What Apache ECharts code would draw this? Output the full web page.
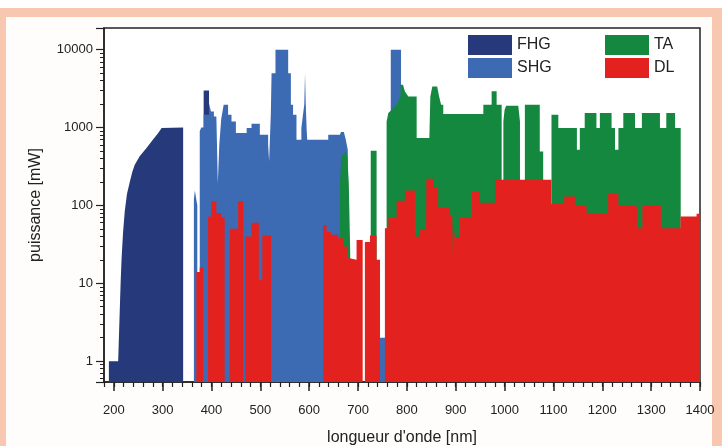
<!DOCTYPE html>
<html><head><meta charset="utf-8">
<script src="https://cdn.jsdelivr.net/npm/echarts@6/dist/echarts.min.js"></script>
<style>
html,body{margin:0;padding:0;background:#fff;width:722px;height:446px;overflow:hidden}
#frame{position:absolute;left:0;top:8px;width:722px;height:438px;background:#f8c7b0}
#inner{position:absolute;left:6px;top:17px;width:706px;height:429px;background:#fffdfb}
#chart{position:absolute;left:0;top:0;width:722px;height:446px}
</style></head><body>
<div id="frame"></div>
<div id="inner"></div>
<div id="chart"></div>
<script>
// ---- data (wavelength nm, power mW); null = gap ----
const seriesNames = ['FHG', 'SHG', 'TA', 'DL'];
const fhg = [[190,1],[209,1],[210.5,2],[212,4],[214,10],[216,21],[219,45],[222.5,84],[227,140],[233,203],[238,270],[243,333],[253,427],[267,545],[280,697],[291,851],[298,990],[342,1000],
  null,[384,3000],[395,3000]];
const shg = [[364,120],[366,156],[369,156],[371,100],null,
  [376,900],[379,1000],[384,1000],[384,1460],[395,1460],[395,2060],[399,2060],[399,1610],[405,1610],[405,1390],[410,1390],[413,193],[416,600],[420,1300],[425,1960],[434,1960],[434,1460],[441,1460],[441,1200],[450,1200],[450,850],[472,850],[472,990],[482,990],[482,1120],[499,1120],[499,807],[516,807],[516,600],[518,370],[521.5,370],[521.5,1500],[523,5000],[531,5000],[531,10000],[557,10000],[557,5000],[562.5,5000],[562.5,1960],[567,1960],[567,1460],[574,1460],[574,700],[584,700],[584,990],[588,990],[590,2000],[591.5,5000],[593,2000],[595,900],[596,700],[639,700],[639,807],[663,807],[665,880],[668,910],[671,880],[675,700],[679,520],[683,520],null,
  [745,2],[767,2],[767,10000],[788,10000]];
const ta = [[663,190],[665,190],[666,420],[675,500],[678,420],[681,200],[684,25],null,
  [726,503],[738,503],null,
  [758.5,1200],[762,1540],[769,1700],[779,2000],[787,2500],[787,3550],[792,3550],[796,2900],[800,2900],[803,2500],[820,2500],[820,733],[846,733],[848,2500],[852,3380],[862,3380],[866,2500],[870,1960],[874.5,1960],[874.5,1490],[956.5,1490],[956.5,1960],[973.5,1960],[973.5,2920],[983.7,2920],[983.7,1960],[994,1960],null,
  [997.5,1200],[1000,1700],[1003,1900],[1028,1900],[1031.5,1200],null,
  [1041.5,1960],[1072,1960],[1072,493],[1079,493],null,
  [1096,1460],[1110,1460],[1110,990],[1148,990],[1148,520],[1154,520],[1154,990],[1164,990],[1164,1540],[1188,1540],[1188,990],[1195,990],[1195,1540],[1219,1540],[1219,990],[1226,990],[1226,520],[1233,520],[1233,990],[1243,990],[1243,1540],[1267,1540],[1267,990],[1281,990],[1281,1540],[1318,1540],[1318,990],[1331,990],[1331,1540],[1349,1540],[1349,990],[1360.5,990]];
const dl = [[369,14],[376,14],[376,16],[383,16],null,
  [393,72],[400,72],[400,113],[410,113],[410,80],[420,80],[420,70],[427,70],null,
  [437.5,50],[454.6,50],[454.6,113],[465,113],null,
  [469,40],[482,40],[482,60],[497,60],[497,11],[504,11],[504,41],[522,41],null,
  [628.7,56],[635.6,56],[635.6,46],[644.4,46],[644.4,42],[659.5,42],[659.5,38],[669.6,38],[669.6,29.6],[678.5,29.6],[678.5,21],[683.3,21],[683.3,20],[697,20],[697,36],[709.5,36],null,
  [714,34],[724.4,34],[724.4,41],[738,41],[738,20],[745,20],null,
  [755,51],[762,51],[762,69],[779,69],[779,115],[796,115],[796,155],[816.5,155],[816.5,40],[827,40],[827,48.7],[838.5,48.7],[838.5,10.5],[840,10.5],[840,220],[854,220],[854,167],[864,167],[864,93],[888,93],[888,76],[892.5,76],[892.5,21],[894,21],[894,76],[898,76],[898,38.5],[908.6,38.5],[908.6,69],[932.5,69],[932.5,151],[949.5,151],[949.5,108],[980.3,108],[980.3,213],[1096,213],[1096,105],[1122,105],[1122,130],[1144,130],[1144,101],[1154,101],[1154,97],[1168,97],[1168,80],[1212,80],[1212,140],[1233,140],[1233,101],[1245,101],[1245,97],[1272,97],[1272,51],[1282,51],[1282,101],[1320,101],[1320,51],[1360,51],[1360,72],[1393,72],[1393,78],[1400,78]];
const xMin = 180, xMax = 1400, xStep = 20;
const xMajorLabels = [200,300,400,500,600,700,800,900,1000,1100,1200,1300,1400];
const yTickLabels = [1,10,100,1000,10000];

// ---- build ----
const xCats = [];
for (let v = xMin; v <= xMax; v += xStep) xCats.push(String(v));
const prep = arr => arr.map(p => p === null ? ['-','-'] : p);
const colors = ['#263a7b', '#3c6bb4', '#14883e', '#e3221f'];
const sdata = [fhg, shg, ta, dl];
const font = 'Liberation Sans, Arial, sans-serif';

const chart = echarts.init(document.getElementById('chart'), null, {renderer: 'canvas'});
chart.setOption({
  animation: false,
  backgroundColor: 'transparent',
  textStyle: {fontFamily: font},
  grid: {left: 104, right: 22, top: 28, bottom: 64, outerBoundsMode: 'none', containLabel: false,
         show: true, borderColor: '#222', borderWidth: 1.5, backgroundColor: '#fff'},
  legend: [
    {data: ['FHG','SHG'], orient: 'vertical', left: 468, top: 35, padding: 0, itemWidth: 44, itemHeight: 20, itemGap: 3, icon: 'rect',
     textStyle: {fontSize: 16, color: '#222', fontFamily: font}},
    {data: ['TA','DL'], orient: 'vertical', left: 605, top: 35, padding: 0, itemWidth: 44, itemHeight: 20, itemGap: 3, icon: 'rect',
     textStyle: {fontSize: 16, color: '#222', fontFamily: font}}
  ],
  xAxis: [
    {type: 'value', min: xMin, max: xMax, interval: xStep,
     name: "longueur d'onde [nm]", nameLocation: 'middle', nameGap: 48,
     nameTextStyle: {fontSize: 16, color: '#222', fontFamily: font},
     axisLine: {show: true, onZero: false, lineStyle: {color: '#222', width: 1.5}},
     axisTick: {show: true, length: 5, lineStyle: {color: '#222', width: 1.2}},
     axisLabel: {fontSize: 13, color: '#222', margin: 22, fontFamily: font,
       formatter: v => xMajorLabels.indexOf(Math.round(v)) >= 0 ? String(Math.round(v)) : ''},
     splitLine: {show: false}},
    {type: 'category', data: xCats, boundaryGap: false, position: 'bottom',
     axisLine: {show: false},
     axisTick: {show: true, length: 9, interval: (i, v) => xMajorLabels.indexOf(Number(v)) >= 0, lineStyle: {color: '#222', width: 1.5}},
     axisLabel: {show: false}, splitLine: {show: false}}
  ],
  yAxis: {type: 'log', logBase: 10, min: 0.54, max: 19000,
    name: 'puissance [mW]', nameLocation: 'middle', nameGap: 60, nameRotate: 90,
    nameTextStyle: {fontSize: 16, color: '#222', fontFamily: font},
    axisLine: {show: true, onZero: false, lineStyle: {color: '#222', width: 1.5}},
    axisTick: {show: true, length: 8, lineStyle: {color: '#222', width: 1.2}},
    minorTick: {show: true, splitNumber: 9, length: 4, lineStyle: {color: '#222', width: 1}},
    axisLabel: {fontSize: 13, color: '#222', margin: 11, showMinLabel: false, showMaxLabel: false, fontFamily: font,
      formatter: v => { const r = Math.round(v); return yTickLabels.indexOf(r) >= 0 ? String(r) : ''; }},
    splitLine: {show: false}, minorSplitLine: {show: false}},
  series: seriesNames.map((n, i) => ({
    name: n, type: 'line', xAxisIndex: 0, data: prep(sdata[i]), showSymbol: false, symbol: 'none',
    connectNulls: false, clip: true, color: colors[i],
    itemStyle: {color: colors[i]},
    lineStyle: {width: 0, color: colors[i]},
    areaStyle: {color: colors[i], opacity: 1, origin: 'start'},
    z: 2 + i
  }))
});
</script>
</body></html>
